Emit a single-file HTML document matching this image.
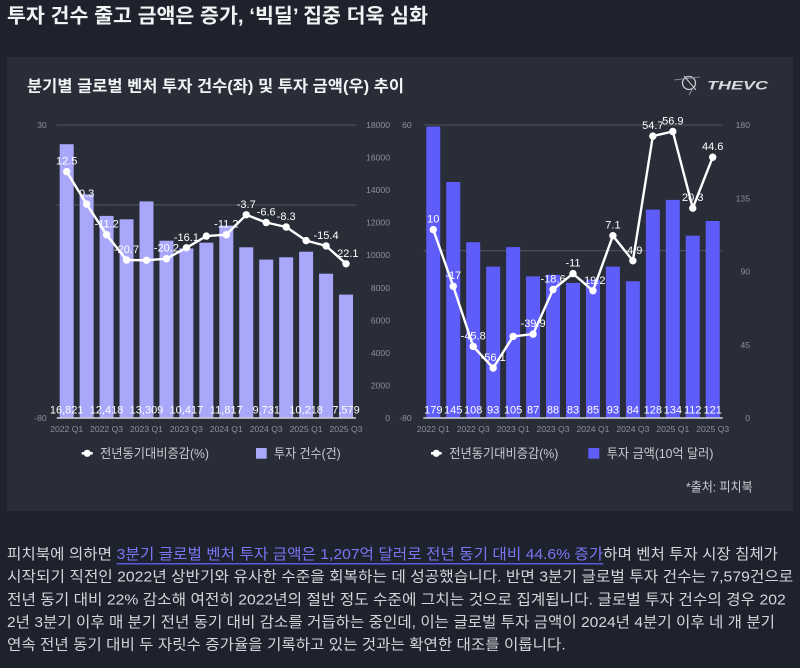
<!DOCTYPE html>
<html><head><meta charset="utf-8"><style>
html,body{margin:0;padding:0;background:#1e222c;}
svg{display:block}
text{font-family:"Liberation Sans","Noto Sans CJK KR",sans-serif;}
</style></head><body>
<svg width="800" height="668" viewBox="0 0 800 668" xmlns="http://www.w3.org/2000/svg">
<rect x="0" y="0" width="800" height="668" fill="#1e222c"/>
<text x="7" y="22.5" font-size="20" font-weight="bold" fill="#f2f3f5" textLength="421" lengthAdjust="spacingAndGlyphs">투자 건수 줄고 금액은 증가, ‘빅딜’ 집중 더욱 심화</text>
<rect x="7" y="57" width="786" height="454" fill="#292d38"/>
<text x="27" y="91.5" font-size="16" font-weight="bold" fill="#f2f3f5" textLength="377" lengthAdjust="spacingAndGlyphs">분기별 글로벌 벤처 투자 건수(좌) 및 투자 금액(우) 추이</text>
<!-- logo -->
<g stroke="#c9cbd0" fill="none" stroke-width="1.3">
<circle cx="689" cy="83" r="6.5"/>
<path d="M674 80 L700 77" stroke-width="0.8" stroke="#9a9ca4"/>
<path d="M684 76 L696 90" stroke-width="1"/>
<path d="M693 88 L689 95" stroke-width="0.8" stroke="#9a9ca4"/>
</g>
<text x="707" y="89.5" font-size="12" font-weight="bold" font-style="italic" fill="#d8d9dd" textLength="61" lengthAdjust="spacingAndGlyphs">THEVC</text>

<!-- LEFT CHART -->
<g stroke="#4a4e5a" stroke-width="1.3">
<line x1="56.7" y1="125" x2="356" y2="125"/>
<line x1="56.7" y1="204.9" x2="356" y2="204.9"/>
</g>
<g fill="#a9a7f9">
<rect x="59.68" y="144.2" width="14" height="273.8"/>
<rect x="79.63" y="194.3" width="14" height="223.7"/>
<rect x="99.58" y="215.9" width="14" height="202.1"/>
<rect x="119.54" y="219.3" width="14" height="198.7"/>
<rect x="139.49" y="201.4" width="14" height="216.6"/>
<rect x="159.44" y="240.7" width="14" height="177.3"/>
<rect x="179.40" y="248.4" width="14" height="169.6"/>
<rect x="199.35" y="242.7" width="14" height="175.3"/>
<rect x="219.30" y="225.6" width="14" height="192.4"/>
<rect x="239.25" y="247.3" width="14" height="170.7"/>
<rect x="259.21" y="259.6" width="14" height="158.4"/>
<rect x="279.16" y="257.3" width="14" height="160.7"/>
<rect x="299.11" y="251.7" width="14" height="166.3"/>
<rect x="319.07" y="273.7" width="14" height="144.3"/>
<rect x="339.02" y="294.6" width="14" height="123.4"/>
</g>
<line x1="56.7" y1="418" x2="356" y2="418" stroke="#d4d4dc" stroke-width="1.5"/>
<g font-size="8.6" fill="#8e9099" text-anchor="end">
<text x="46.7" y="128">30</text>
<text x="46.7" y="421">-80</text>
<text x="390" y="128">18000</text>
<text x="390" y="160.6">16000</text>
<text x="390" y="193.1">14000</text>
<text x="390" y="225.7">12000</text>
<text x="390" y="258.2">10000</text>
<text x="390" y="290.8">8000</text>
<text x="390" y="323.3">6000</text>
<text x="390" y="355.9">4000</text>
<text x="390" y="388.4">2000</text>
<text x="390" y="421">0</text>
</g>
<g font-size="8.6" fill="#8e9099" text-anchor="middle">
<text x="66.68" y="432.2">2022 Q1</text>
<text x="106.58" y="432.2">2022 Q3</text>
<text x="146.49" y="432.2">2023 Q1</text>
<text x="186.40" y="432.2">2023 Q3</text>
<text x="226.30" y="432.2">2024 Q1</text>
<text x="266.21" y="432.2">2024 Q3</text>
<text x="306.11" y="432.2">2025 Q1</text>
<text x="346.02" y="432.2">2025 Q3</text>
</g>
<g font-size="11" fill="#ffffff" text-anchor="middle">
<text x="66.68" y="413.3">16,821</text>
<text x="106.58" y="413.3">12,418</text>
<text x="146.49" y="413.3">13,309</text>
<text x="186.40" y="413.3">10,417</text>
<text x="226.30" y="413.3">11,817</text>
<text x="266.21" y="413.3">9,731</text>
<text x="306.11" y="413.3">10,218</text>
<text x="346.02" y="413.3">7,579</text>
</g>
<g font-size="11" fill="#ffffff" text-anchor="middle">
<text x="66.68" y="164.6">12.5</text>
<text x="86.63" y="197.1">0.3</text>
<text x="106.58" y="227.7">-11.2</text>
<text x="126.54" y="253">-20.7</text>
<text x="166.44" y="251.7">-20.2</text>
<text x="186.40" y="240.8">-16.1</text>
<text x="226.30" y="227.7">-11.2</text>
<text x="246.25" y="207.8">-3.7</text>
<text x="266.21" y="215.5">-6.6</text>
<text x="286.16" y="220">-8.3</text>
<text x="326.07" y="238.9">-15.4</text>
<text x="346.02" y="256.8">-22.1</text>
</g>
<polyline fill="none" stroke="#ffffff" stroke-width="2.4" stroke-linejoin="round" points="66.68,171.6 86.63,204.1 106.58,234.7 126.54,260 146.49,260.3 166.44,258.7 186.40,247.8 206.35,236.1 226.30,234.7 246.25,214.8 266.21,222.5 286.16,227 306.11,240.6 326.07,245.9 346.02,263.8"/>
<g fill="#ffffff">
<circle cx="66.68" cy="171.6" r="3.7"/><circle cx="86.63" cy="204.1" r="3.7"/><circle cx="106.58" cy="234.7" r="3.7"/><circle cx="126.54" cy="260" r="3.7"/><circle cx="146.49" cy="260.3" r="3.7"/><circle cx="166.44" cy="258.7" r="3.7"/><circle cx="186.40" cy="247.8" r="3.7"/><circle cx="206.35" cy="236.1" r="3.7"/><circle cx="226.30" cy="234.7" r="3.7"/><circle cx="246.25" cy="214.8" r="3.7"/><circle cx="266.21" cy="222.5" r="3.7"/><circle cx="286.16" cy="227" r="3.7"/><circle cx="306.11" cy="240.6" r="3.7"/><circle cx="326.07" cy="245.9" r="3.7"/><circle cx="346.02" cy="263.8" r="3.7"/>
</g>

<!-- RIGHT CHART -->
<g stroke="#4a4e5a" stroke-width="1.3">
<line x1="423.3" y1="125" x2="722.7" y2="125"/>
<line x1="423.3" y1="250.6" x2="722.7" y2="250.6"/>
</g>
<g fill="#5f5dfa">
<rect x="426.28" y="126.6" width="14" height="291.4"/>
<rect x="446.24" y="182.0" width="14" height="236.0"/>
<rect x="466.20" y="242.2" width="14" height="175.8"/>
<rect x="486.16" y="266.6" width="14" height="151.4"/>
<rect x="506.12" y="247.1" width="14" height="170.9"/>
<rect x="526.08" y="276.4" width="14" height="141.6"/>
<rect x="546.04" y="274.8" width="14" height="143.2"/>
<rect x="566.00" y="282.9" width="14" height="135.1"/>
<rect x="585.96" y="279.6" width="14" height="138.4"/>
<rect x="605.92" y="266.6" width="14" height="151.4"/>
<rect x="625.88" y="281.3" width="14" height="136.7"/>
<rect x="645.84" y="209.6" width="14" height="208.4"/>
<rect x="665.80" y="199.9" width="14" height="218.1"/>
<rect x="685.76" y="235.7" width="14" height="182.3"/>
<rect x="705.72" y="221.0" width="14" height="197.0"/>
</g>
<line x1="423.3" y1="418" x2="722.7" y2="418" stroke="#d4d4dc" stroke-width="1.5"/>
<g font-size="8.6" fill="#8e9099" text-anchor="end">
<text x="411.7" y="128">60</text>
<text x="411.7" y="421">-80</text>
<text x="750" y="128">180</text>
<text x="750" y="201.3">135</text>
<text x="750" y="274.5">90</text>
<text x="750" y="347.8">45</text>
<text x="750" y="421">0</text>
</g>
<g font-size="8.6" fill="#8e9099" text-anchor="middle">
<text x="433.28" y="432.2">2022 Q1</text>
<text x="473.20" y="432.2">2022 Q3</text>
<text x="513.12" y="432.2">2023 Q1</text>
<text x="553.04" y="432.2">2023 Q3</text>
<text x="592.96" y="432.2">2024 Q1</text>
<text x="632.88" y="432.2">2024 Q3</text>
<text x="672.80" y="432.2">2025 Q1</text>
<text x="712.72" y="432.2">2025 Q3</text>
</g>
<g font-size="11" fill="#ffffff" text-anchor="middle">
<text x="433.28" y="413.3">179</text>
<text x="453.24" y="413.3">145</text>
<text x="473.20" y="413.3">108</text>
<text x="493.16" y="413.3">93</text>
<text x="513.12" y="413.3">105</text>
<text x="533.08" y="413.3">87</text>
<text x="553.04" y="413.3">88</text>
<text x="573.00" y="413.3">83</text>
<text x="592.96" y="413.3">85</text>
<text x="612.92" y="413.3">93</text>
<text x="632.88" y="413.3">84</text>
<text x="652.84" y="413.3">128</text>
<text x="672.80" y="413.3">134</text>
<text x="692.76" y="413.3">112</text>
<text x="712.72" y="413.3">121</text>
</g>
<g font-size="11" fill="#ffffff" text-anchor="middle">
<text x="433.28" y="222.6">10</text>
<text x="453.24" y="279.2">-17</text>
<text x="473.20" y="339.4">-45.8</text>
<text x="493.16" y="361">-56.1</text>
<text x="533.08" y="327.1">-39.9</text>
<text x="553.04" y="282.5">-18.6</text>
<text x="573.00" y="266.6">-11</text>
<text x="592.96" y="283.8">-19.2</text>
<text x="612.92" y="228.7">7.1</text>
<text x="632.88" y="253.8">-4.9</text>
<text x="652.84" y="129.1">54.7</text>
<text x="672.80" y="124.5">56.9</text>
<text x="692.76" y="201.1">20.3</text>
<text x="712.72" y="150.2">44.6</text>
</g>
<polyline fill="none" stroke="#ffffff" stroke-width="2.4" stroke-linejoin="round" points="433.28,229.6 453.24,286.2 473.2,346.4 493.16,368 513.12,336.4 533.08,334.1 553.04,289.5 573,273.6 592.96,290.8 612.92,235.7 632.88,260.8 652.84,136.1 672.8,131.5 692.76,208.1 712.72,157.2"/>
<g fill="#ffffff">
<circle cx="433.28" cy="229.6" r="3.7"/><circle cx="453.24" cy="286.2" r="3.7"/><circle cx="473.2" cy="346.4" r="3.7"/><circle cx="493.16" cy="368" r="3.7"/><circle cx="513.12" cy="336.4" r="3.7"/><circle cx="533.08" cy="334.1" r="3.7"/><circle cx="553.04" cy="289.5" r="3.7"/><circle cx="573" cy="273.6" r="3.7"/><circle cx="592.96" cy="290.8" r="3.7"/><circle cx="612.92" cy="235.7" r="3.7"/><circle cx="632.88" cy="260.8" r="3.7"/><circle cx="652.84" cy="136.1" r="3.7"/><circle cx="672.8" cy="131.5" r="3.7"/><circle cx="692.76" cy="208.1" r="3.7"/><circle cx="712.72" cy="157.2" r="3.7"/>
</g>

<!-- LEGENDS -->
<line x1="81.7" y1="453.3" x2="92.7" y2="453.3" stroke="#fff" stroke-width="2.5"/>
<circle cx="87.2" cy="453.3" r="3.6" fill="#fff"/>
<text x="100" y="458" font-size="13" fill="#c9cbd2" textLength="109" lengthAdjust="spacingAndGlyphs">전년동기대비증감(%)</text>
<rect x="256" y="448" width="10.7" height="10.7" fill="#a9a7f9"/>
<text x="274" y="458" font-size="13" fill="#c9cbd2" textLength="66.7" lengthAdjust="spacingAndGlyphs">투자 건수(건)</text>
<line x1="431" y1="453.3" x2="441.7" y2="453.3" stroke="#fff" stroke-width="2.5"/>
<circle cx="436.3" cy="453.3" r="3.6" fill="#fff"/>
<text x="449.3" y="458" font-size="13" fill="#c9cbd2" textLength="109" lengthAdjust="spacingAndGlyphs">전년동기대비증감(%)</text>
<rect x="588.3" y="448" width="11" height="10.7" fill="#5f5dfa"/>
<text x="606.7" y="458" font-size="13" fill="#c9cbd2" textLength="106.7" lengthAdjust="spacingAndGlyphs">투자 금액(10억 달러)</text>
<text x="686" y="491.3" font-size="13" fill="#c9cbd2" textLength="66.7" lengthAdjust="spacingAndGlyphs">*출처: 피치북</text>

<!-- PARAGRAPH -->
<g font-size="15" fill="#d3d5db">
<text x="7" y="559" textLength="105" lengthAdjust="spacingAndGlyphs">피치북에 의하면</text>
<text x="116.7" y="559" fill="#7877f6" textLength="486.6" lengthAdjust="spacingAndGlyphs">3분기 글로벌 벤처 투자 금액은 1,207억 달러로 전년 동기 대비 44.6% 증가</text>
<text x="603.3" y="559" textLength="174.7" lengthAdjust="spacingAndGlyphs">하며 벤처 투자 시장 침체가</text>
<text x="7" y="581.7" textLength="786.3" lengthAdjust="spacingAndGlyphs">시작되기 직전인 2022년 상반기와 유사한 수준을 회복하는 데 성공했습니다. 반면 3분기 글로벌 투자 건수는 7,579건으로</text>
<text x="7" y="604.3" textLength="778.7" lengthAdjust="spacingAndGlyphs">전년 동기 대비 22% 감소해 여전히 2022년의 절반 정도 수준에 그치는 것으로 집계됩니다. 글로벌 투자 건수의 경우 202</text>
<text x="7" y="627" textLength="768" lengthAdjust="spacingAndGlyphs">2년 3분기 이후 매 분기 전년 동기 대비 감소를 거듭하는 중인데, 이는 글로벌 투자 금액이 2024년 4분기 이후 네 개 분기</text>
<text x="7" y="649.7" textLength="558.7" lengthAdjust="spacingAndGlyphs">연속 전년 동기 대비 두 자릿수 증가율을 기록하고 있는 것과는 확연한 대조를 이룹니다.</text>
</g>
<line x1="116.7" y1="563.8" x2="603.3" y2="563.8" stroke="#5a59e0" stroke-width="1.5"/>
</svg>
</body></html>
